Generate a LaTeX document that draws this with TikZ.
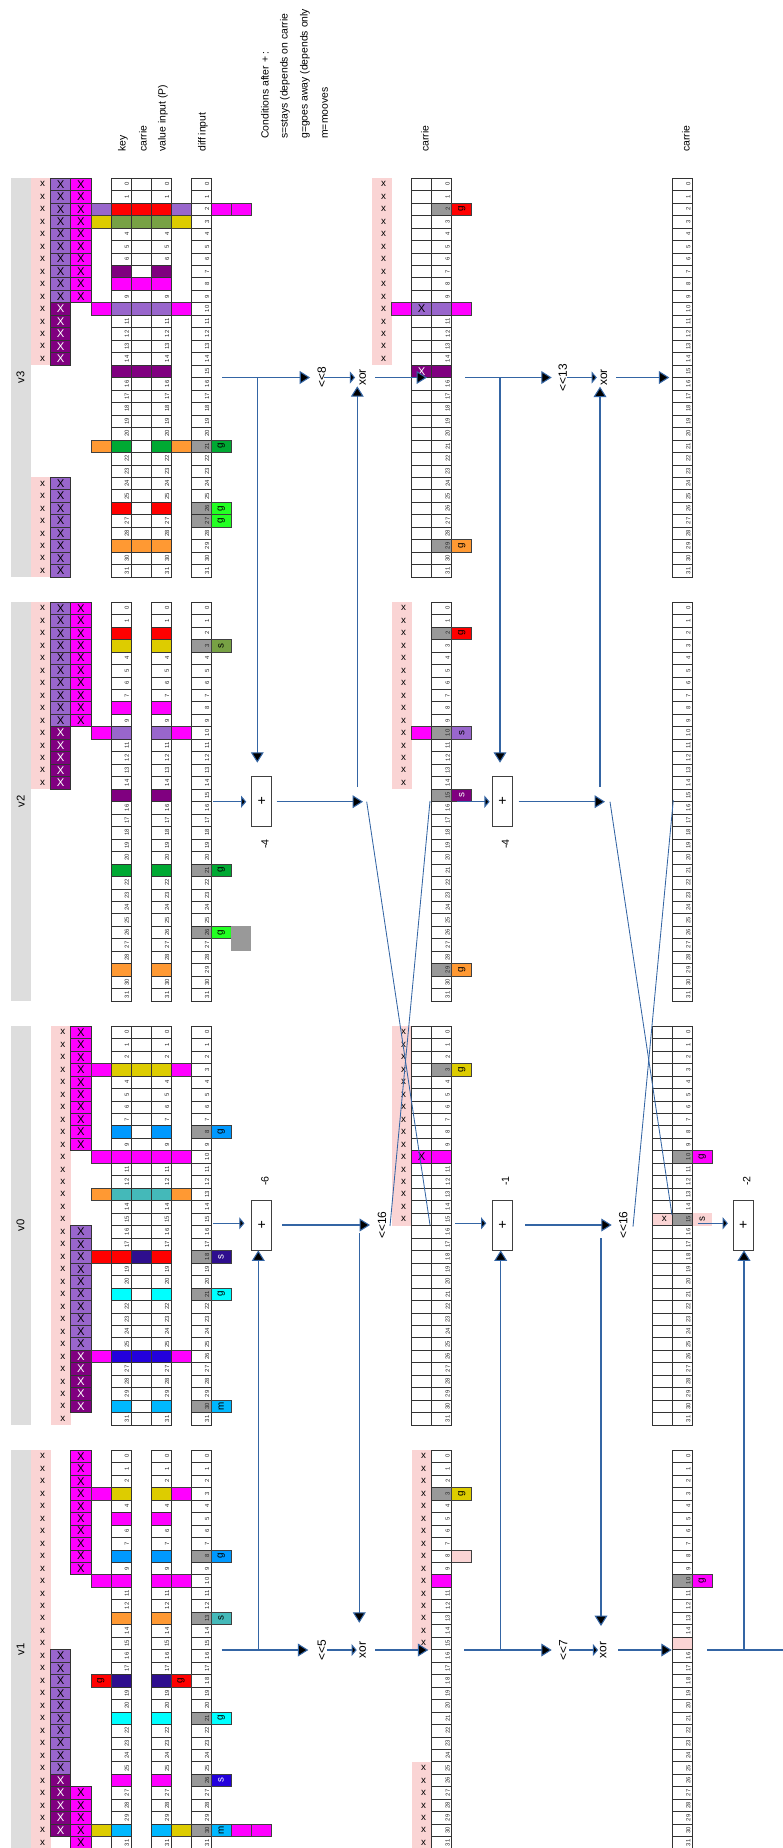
\documentclass[tikz,border=0pt]{standalone}
\usepackage{fontspec}
\setmainfont{Liberation Sans}
\usetikzlibrary{arrows.meta,positioning}

\definecolor{lblgray}{HTML}{DDDDDD}
\definecolor{pinkbg}{HTML}{FAD4D4}
\definecolor{mpurple}{HTML}{9966CC}
\definecolor{dpurple}{HTML}{800080}
\definecolor{magx}{HTML}{FF00FF}
\definecolor{redx}{HTML}{FF0000}
\definecolor{yellowx}{HTML}{DDCC00}
\definecolor{olivex}{HTML}{77A144}
\definecolor{greenx}{HTML}{00A933}
\definecolor{lgreenx}{HTML}{23FF23}
\definecolor{orangex}{HTML}{FF9933}
\definecolor{tealx}{HTML}{44B9B9}
\definecolor{cyanx}{HTML}{00FFFF}
\definecolor{bluex}{HTML}{0099FF}
\definecolor{skyx}{HTML}{00B8FF}
\definecolor{indigox}{HTML}{2E0E8E}
\definecolor{royalx}{HTML}{2300DC}
\definecolor{diffgray}{HTML}{999999}
\definecolor{lineblue}{HTML}{3465A4}

\tikzset{
  cellline/.style={draw=black!80, line width=0.4pt},
  bitnum/.style={rotate=90, inner sep=0pt, font=\fontsize{4.2pt}{5pt}\selectfont, text=black!85},
  xbig/.style={inner sep=0pt, font=\fontsize{8pt}{9pt}\selectfont},
  xsmall/.style={inner sep=0pt, font=\fontsize{7pt}{8pt}\selectfont},
  flaglbl/.style={rotate=90, inner sep=0pt, font=\fontsize{7pt}{8pt}\selectfont},
  vlabel/.style={rotate=90, inner sep=0pt, font=\fontsize{8pt}{9pt}\selectfont},
  toplbl/.style={rotate=90, anchor=west, inner sep=0pt, font=\fontsize{7.4pt}{9pt}\selectfont},
  oplbl/.style={rotate=90, inner sep=0pt, font=\fontsize{8.5pt}{10pt}\selectfont},
  difflbl/.style={rotate=90, inner sep=0pt, font=\fontsize{7.5pt}{9pt}\selectfont},
  plusbox/.style={draw=black!75, line width=0.6pt, minimum width=5mm, minimum height=12.5mm, inner sep=0pt, font=\fontsize{10pt}{11pt}\selectfont},
  flow/.style={draw=lineblue, line width=0.75pt},
  swapline/.style={draw=lineblue, line width=0.6pt},
  bigarr/.style={flow, -{Triangle[length=2.6mm, width=3.2mm, fill=black]}},
  thinarr/.style={flow, -{Triangle[length=1.3mm, width=3mm, fill=black]}},
}

% one cell of a 32 bit word, column #1, row #2
\newcommand\bitfill[3]{\filldraw[fill=#3, draw=black!75, line width=0.4pt] (#1,#2) rectangle ++(1,1);}
\newcommand\bitgray[2]{\fill[diffgray] (#1,#2) rectangle ++(1,1);}
\newcommand\bitflag[5]{\filldraw[fill=#3, draw=black!75, line width=0.4pt] (#1,#2) rectangle ++(1,1);
  \node[flaglbl, text=#5] (\blk f#1-#2) at (#1+0.5,#2+0.5) {#4};}
\newcommand\bitx[4]{\filldraw[fill=#3, draw=black!80, line width=0.4pt] (#1,#2) rectangle ++(1,1);
  \node[xbig, text=#4] (\blk x#1-#2) at (#1+0.5,#2+0.5) {X};}
\newcommand\pinkrun[3]{\fill[pinkbg] (#1,#2) rectangle (#1+1,#3+1);
  \foreach \rw in {#2,...,#3} \node[xsmall] (\blk p#1-\rw) at (#1+0.6,\rw+0.5) {x};}
\newcommand\bitnums[1]{\foreach \rw in {0,...,31} \node[bitnum] (\blk n#1-\rw) at (#1+0.8,\rw+0.5) {\rw};}
\newcommand\bitgrid[1]{\foreach \rw in {0,...,31} \draw[cellline] (#1,\rw) rectangle ++(1,1);}

\begin{document}
\begin{tikzpicture}[x=0.25mm, y=-0.25mm]
\useasboundingbox (0,0) rectangle (783,1848);

% column titles
\node[toplbl] (tkey) at (123,152) {key};
\node[toplbl] (tcar) at (143,152) {carrie};
\node[toplbl] (tval) at (163,152) {value input (P)};
\node[toplbl] (tdif) at (203,152) {diff input};
\node[toplbl] (tcond) at (265,139) {Conditions after + :};
\node[toplbl] (tstay) at (285,139) {s=stays (depends on carrie};
\node[toplbl] (tgo) at (305,139) {g=goes away (depends only};
\node[toplbl] (tmv) at (325,139) {m=mooves};
\node[toplbl] (tcar2) at (425,152) {carrie};
\node[toplbl] (tcar3) at (686,152) {carrie};

% ---------------- v3
\begin{scope}[shift={(10.6,178)}, x=5.0125mm, y=-3.1175mm]
\def\blk{v3}
\fill[lblgray] (0,0) rectangle (1,32);
\node[vlabel] (lblv3) at (0.5,16) {v3};
\pinkrun{1}{0}{14} \pinkrun{1}{24}{31}
\foreach \rw in {0,...,9} {\bitx{2}{\rw}{mpurple}{black} \bitx{3}{\rw}{magx}{black}}
\foreach \rw in {10,...,14} {\bitx{2}{\rw}{dpurple}{white}}
\foreach \rw in {24,...,31} {\bitx{2}{\rw}{mpurple}{black}}
\foreach \rw in {21,26,27} {\bitgray{9}{\rw}}
\bitnums{5} \bitnums{7} \bitnums{9}
\foreach \kc/\cl in {4/mpurple,5/redx,6/redx,7/redx,8/mpurple,10/magx,11/magx} {\bitfill{\kc}{2}{\cl}}
\foreach \kc/\cl in {4/yellowx,5/olivex,6/olivex,7/olivex,8/yellowx} {\bitfill{\kc}{3}{\cl}}
\bitfill{5}{7}{dpurple} \bitfill{7}{7}{dpurple}
\foreach \kc in {5,6,7} {\bitfill{\kc}{8}{magx}}
\foreach \kc/\cl in {4/magx,5/mpurple,6/mpurple,7/mpurple,8/magx} {\bitfill{\kc}{10}{\cl}}
\foreach \kc in {5,6,7} {\bitfill{\kc}{15}{dpurple}}
\foreach \kc/\cl in {4/orangex,5/greenx,7/greenx,8/orangex} {\bitfill{\kc}{21}{\cl}}
\bitfill{5}{26}{redx} \bitfill{7}{26}{redx}
\foreach \kc in {5,6,7} {\bitfill{\kc}{29}{orangex}}
\bitgrid{5} \bitgrid{6} \bitgrid{7} \bitgrid{9}
\bitflag{10}{21}{greenx}{g}{black}
\bitflag{10}{26}{lgreenx}{g}{black}
\bitflag{10}{27}{lgreenx}{g}{black}
% after <<<8 and xor
\pinkrun{18}{0}{14}
\bitgray{21}{2} \bitgray{21}{29}
\bitnums{21}
\bitfill{19}{10}{magx} \bitx{20}{10}{mpurple}{black} \bitfill{21}{10}{mpurple} \bitfill{22}{10}{magx}
\bitx{20}{15}{dpurple}{white} \bitfill{21}{15}{dpurple}
\bitgrid{20} \bitgrid{21}
\bitflag{22}{2}{redx}{g}{black}
\bitflag{22}{29}{orangex}{g}{black}
% after <<<13 and xor
\bitnums{33} \bitgrid{33}
\end{scope}

% ---------------- v2
\begin{scope}[shift={(10.6,602)}, x=5.0125mm, y=-3.1175mm]
\def\blk{v2}
\fill[lblgray] (0,0) rectangle (1,32);
\node[vlabel] (lblv2) at (0.5,16) {v2};
\pinkrun{1}{0}{14}
\foreach \rw in {0,...,9} {\bitx{2}{\rw}{mpurple}{black} \bitx{3}{\rw}{magx}{black}}
\foreach \rw in {10,...,14} {\bitx{2}{\rw}{dpurple}{white}}
\foreach \rw in {3,21,26} {\bitgray{9}{\rw}}
\bitnums{5} \bitnums{7} \bitnums{9}
\bitfill{5}{2}{redx} \bitfill{7}{2}{redx}
\bitfill{5}{3}{yellowx} \bitfill{7}{3}{yellowx}
\bitfill{5}{8}{magx} \bitfill{7}{8}{magx}
\foreach \kc/\cl in {4/magx,5/mpurple,7/mpurple,8/magx} {\bitfill{\kc}{10}{\cl}}
\bitfill{5}{15}{dpurple} \bitfill{7}{15}{dpurple}
\bitfill{5}{21}{greenx} \bitfill{7}{21}{greenx}
\bitfill{5}{29}{orangex} \bitfill{7}{29}{orangex}
\bitgrid{5} \bitgrid{7} \bitgrid{9}
\bitflag{10}{3}{olivex}{s}{black}
\bitflag{10}{21}{greenx}{g}{black}
\bitflag{10}{26}{lgreenx}{g}{black}
\fill[diffgray] (11,26) rectangle (12,28);
% after +
\pinkrun{19}{0}{14}
\foreach \rw in {2,10,15,29} {\bitgray{21}{\rw}}
\bitnums{21}
\bitfill{20}{10}{magx}
\bitgrid{21}
\bitflag{22}{2}{redx}{g}{black}
\bitflag{22}{10}{mpurple}{s}{black}
\bitflag{22}{15}{dpurple}{s}{white}
\bitflag{22}{29}{orangex}{g}{black}
% after second +
\bitnums{33} \bitgrid{33}
\end{scope}

% ---------------- v0
\begin{scope}[shift={(10.6,1026)}, x=5.0125mm, y=-3.1175mm]
\def\blk{v0}
\fill[lblgray] (0,0) rectangle (1,32);
\node[vlabel] (lblv0) at (0.5,16) {v0};
\pinkrun{2}{0}{31}
\foreach \rw in {0,...,9} {\bitx{3}{\rw}{magx}{black}}
\foreach \rw in {16,...,25} {\bitx{3}{\rw}{mpurple}{black}}
\foreach \rw in {26,...,30} {\bitx{3}{\rw}{dpurple}{white}}
\foreach \rw in {8,18,21,30} {\bitgray{9}{\rw}}
\bitnums{5} \bitnums{7} \bitnums{9}
\foreach \kc/\cl in {4/magx,5/yellowx,6/yellowx,7/yellowx,8/magx} {\bitfill{\kc}{3}{\cl}}
\bitfill{5}{8}{bluex} \bitfill{7}{8}{bluex}
\foreach \kc in {4,...,8} {\bitfill{\kc}{10}{magx}}
\foreach \kc/\cl in {4/orangex,5/tealx,6/tealx,7/tealx,8/orangex} {\bitfill{\kc}{13}{\cl}}
\foreach \kc/\cl in {4/redx,5/redx,6/indigox,7/redx} {\bitfill{\kc}{18}{\cl}}
\bitfill{5}{21}{cyanx} \bitfill{7}{21}{cyanx}
\foreach \kc/\cl in {4/magx,5/royalx,6/royalx,7/royalx,8/magx} {\bitfill{\kc}{26}{\cl}}
\bitfill{5}{30}{skyx} \bitfill{7}{30}{skyx}
\bitgrid{5} \bitgrid{6} \bitgrid{7} \bitgrid{9}
\bitflag{10}{8}{bluex}{g}{black}
\bitflag{10}{18}{indigox}{s}{white}
\bitflag{10}{21}{cyanx}{g}{black}
\bitflag{10}{30}{skyx}{m}{black}
% after <<<16
\pinkrun{19}{0}{15}
\bitgray{21}{3}
\bitnums{21}
\bitx{20}{10}{magx}{black} \bitfill{21}{10}{magx}
\bitgrid{20} \bitgrid{21}
\bitflag{22}{3}{yellowx}{g}{black}
% after second <<<16
\fill[pinkbg] (32,15) rectangle (35,16);
\bitgray{33}{10} \bitgray{33}{15}
\bitnums{33}
\bitgrid{32} \bitgrid{33}
\node[xsmall] (v0p32-15) at (32.6,15.5) {x};
\node[flaglbl] (v0f34-15) at (34.5,15.5) {s};
\bitflag{34}{10}{magx}{g}{black}
\end{scope}

% ---------------- v1
\begin{scope}[shift={(10.6,1450)}, x=5.0125mm, y=-3.1175mm]
\def\blk{v1}
\fill[lblgray] (0,0) rectangle (1,32);
\node[vlabel] (lblv1) at (0.5,16) {v1};
\pinkrun{1}{0}{31}
\foreach \rw in {16,...,25} {\bitx{2}{\rw}{mpurple}{black}}
\foreach \rw in {26,...,30} {\bitx{2}{\rw}{dpurple}{white}}
\foreach \rw in {0,...,9} {\bitx{3}{\rw}{magx}{black}}
\foreach \rw in {27,...,31} {\bitx{3}{\rw}{magx}{black}}
\foreach \rw in {8,13,21,26,30} {\bitgray{9}{\rw}}
\bitnums{5} \bitnums{7} \bitnums{9}
\foreach \kc/\cl in {4/magx,5/yellowx,7/yellowx,8/magx} {\bitfill{\kc}{3}{\cl}}
\bitfill{5}{5}{magx} \bitfill{7}{5}{magx}
\bitfill{5}{8}{bluex} \bitfill{7}{8}{bluex}
\foreach \kc in {4,5,7,8} {\bitfill{\kc}{10}{magx}}
\bitfill{5}{13}{orangex} \bitfill{7}{13}{orangex}
\bitfill{5}{18}{indigox} \bitfill{7}{18}{indigox}
\bitfill{5}{21}{cyanx} \bitfill{7}{21}{cyanx}
\bitfill{5}{26}{magx} \bitfill{7}{26}{magx}
\foreach \kc/\cl in {4/yellowx,5/skyx,7/skyx,8/yellowx,11/magx,12/magx} {\bitfill{\kc}{30}{\cl}}
\bitgrid{5} \bitgrid{7} \bitgrid{9}
\bitflag{4}{18}{redx}{g}{black}
\bitflag{8}{18}{redx}{g}{black}
\bitflag{10}{8}{bluex}{g}{black}
\bitflag{10}{13}{tealx}{s}{black}
\bitflag{10}{21}{cyanx}{g}{black}
\bitflag{10}{26}{royalx}{s}{white}
\bitflag{10}{30}{skyx}{m}{black}
% after <<<5 and xor
\pinkrun{20}{0}{15} \pinkrun{20}{25}{31}
\bitgray{21}{3}
\bitnums{21}
\bitfill{21}{10}{magx}
\bitfill{22}{8}{pinkbg}
\bitgrid{21}
\bitflag{22}{3}{yellowx}{g}{black}
% after <<<7 and xor
\bitgray{33}{10}
\bitnums{33}
\fill[pinkbg] (33,15) rectangle ++(1,1);
\bitgrid{33}
\bitflag{34}{10}{magx}{g}{black}
\end{scope}

% operators
\node[oplbl] (rot8) at (321.7,377.5) {<\kern0pt<8};
\node[oplbl] (xor8) at (362.7,377.5) {xor};
\node[oplbl] (rot13) at (562.7,377.5) {<\kern0pt<13};
\node[oplbl] (xor13) at (604,377.5) {xor};
\node[plusbox] (p2a) at (261.7,801.7) {+};
\node[plusbox] (p2b) at (502.5,801.7) {+};
\node[difflbl] (d2a) at (265,844) {-4};
\node[difflbl] (d2b) at (505.5,844) {-4};
\node[plusbox] (p0a) at (261.7,1225) {+};
\node[plusbox] (p0b) at (502.5,1225) {+};
\node[plusbox] (p0c) at (743.3,1225) {+};
\node[difflbl] (d0a) at (265,1181) {-6};
\node[difflbl] (d0b) at (505.5,1181) {-1};
\node[difflbl] (d0c) at (746.7,1181) {-2};
\node[oplbl] (rot16a) at (382,1225) {<\kern0pt<16};
\node[oplbl] (rot16b) at (623.3,1225) {<\kern0pt<16};
\node[oplbl] (rot5) at (321.7,1650) {<\kern0pt<5};
\node[oplbl] (xor5) at (362.7,1650) {xor};
\node[oplbl] (rot7) at (563.3,1650) {<\kern0pt<7};
\node[oplbl] (xor7) at (603.3,1650) {xor};

% v3 row
\coordinate (c3a) at (222,377.5);
\coordinate (j3a) at (257.3,377.5);
\coordinate (c3b) at (427,377.5);
\coordinate (c3c) at (465,377.5);
\coordinate (j3b) at (500,377.5);
\coordinate (c3d) at (669.3,377.5);
\draw[bigarr, shorten >=2.9mm] (c3a) -- (rot8.center);
\draw[thinarr, shorten <=0.6mm, shorten >=1.9mm] (rot8.center) -- (xor8.center);
\draw[bigarr, shorten <=3.1mm] (xor8.center) -- (c3b);
\draw[bigarr, shorten >=3.4mm] (j3a) -- (j3a |- p2a.north);
\draw[bigarr, shorten >=2.75mm] (c3c) -- (rot13.center);
\draw[thinarr, shorten <=1mm, shorten >=1.8mm] (rot13.center) -- (xor13.center);
\draw[bigarr, shorten <=3mm] (xor13.center) -- (c3d);
\draw[bigarr, shorten >=3.4mm] (j3b) -- (j3b |- p2b.north);

% v2 row
\coordinate (c2a) at (213.3,801.7);
\coordinate (c2m) at (363,801.7);
\coordinate (c2u) at (357.3,787);
\coordinate (c2b) at (456.7,801.7);
\coordinate (c2n) at (605,801.7);
\coordinate (c2v) at (600,787);
\draw[thinarr, shorten >=1.25mm] (c2a) -- (p2a.west);
\draw[bigarr, shorten <=1.1mm] (p2a.east) -- (c2m);
\draw[bigarr, shorten >=2.2mm] (c2u) -- (c2u |- xor8.center);
\draw[thinarr, shorten >=0.6mm] (c2b) -- (p2b.west);
\draw[bigarr, shorten <=1.4mm] (p2b.east) -- (c2n);
\draw[bigarr, shorten >=2.3mm] (c2v) -- (c2v |- xor13.center);
% half swap (<<<16)
\coordinate (s2a) at (366.7,801.7);
\coordinate (s2b) at (430,801);
\coordinate (s0a) at (430,1225);
\coordinate (s0b) at (390,1226);
\draw[swapline] (s2a) -- (s0a);
\draw[swapline] (s2b) -- (s0b);
\coordinate (s2c) at (610,801.7);
\coordinate (s2d) at (673.3,800);
\coordinate (s0c) at (672,1215);
\coordinate (s0d) at (633,1226.7);
\draw[swapline] (s2c) -- (s0c);
\draw[swapline] (s2d) -- (s0d);

% v0 row
\coordinate (c0a) at (213.3,1223.3);
\coordinate (c0m) at (370,1225);
\coordinate (j0a) at (359.3,1233);
\coordinate (c0b) at (455,1223.3);
\coordinate (c0n) at (611.7,1225);
\coordinate (j0b) at (601,1238);
\coordinate (c0c) at (698,1223.3);
\draw[thinarr, shorten >=1.7mm] (c0a) -- (c0a -| p0a.west);
\draw[bigarr, shorten <=2.5mm] (p0a.east) -- (c0m);
\draw[bigarr, shorten >=6.8mm] (j0a) -- (j0a |- xor5.center);
\draw[thinarr, shorten >=1.45mm] (c0b) -- (c0b -| p0b.west);
\draw[bigarr, shorten <=3.1mm] (p0b.east) -- (c0n);
\draw[bigarr, shorten >=6mm] (j0b) -- (j0b |- xor7.center);
\draw[thinarr, shorten >=1.25mm] (c0c) -- (c0c -| p0c.west);

% v1 row
\coordinate (c1a) at (221.7,1650);
\coordinate (j1a) at (258.3,1650);
\coordinate (c1b) at (428.3,1650);
\coordinate (c1c) at (464.3,1650);
\coordinate (j1b) at (500.7,1650);
\coordinate (c1d) at (671.7,1650);
\coordinate (c1e) at (707,1650);
\coordinate (j1c) at (744,1650);
\coordinate (c1f) at (790,1650);
\draw[bigarr, shorten >=3.35mm] (c1a) -- (rot5.center);
\draw[thinarr, shorten <=1.25mm, shorten >=1.5mm] (rot5.center) -- (xor5.center);
\draw[bigarr, shorten <=3.1mm] (xor5.center) -- (c1b);
\draw[bigarr] (j1a) -- (j1a |- p0a.south);
\draw[bigarr, shorten >=2.9mm] (c1c) -- (rot7.center);
\draw[thinarr, shorten <=1.4mm, shorten >=1.3mm] (rot7.center) -- (xor7.center);
\draw[bigarr, shorten <=3.7mm] (xor7.center) -- (c1d);
\draw[bigarr] (j1b) -- (j1b |- p0b.south);
\draw[flow] (c1e) -- (c1f);
\draw[bigarr] (j1c) -- (j1c |- p0c.south);
\end{tikzpicture}
\end{document}
